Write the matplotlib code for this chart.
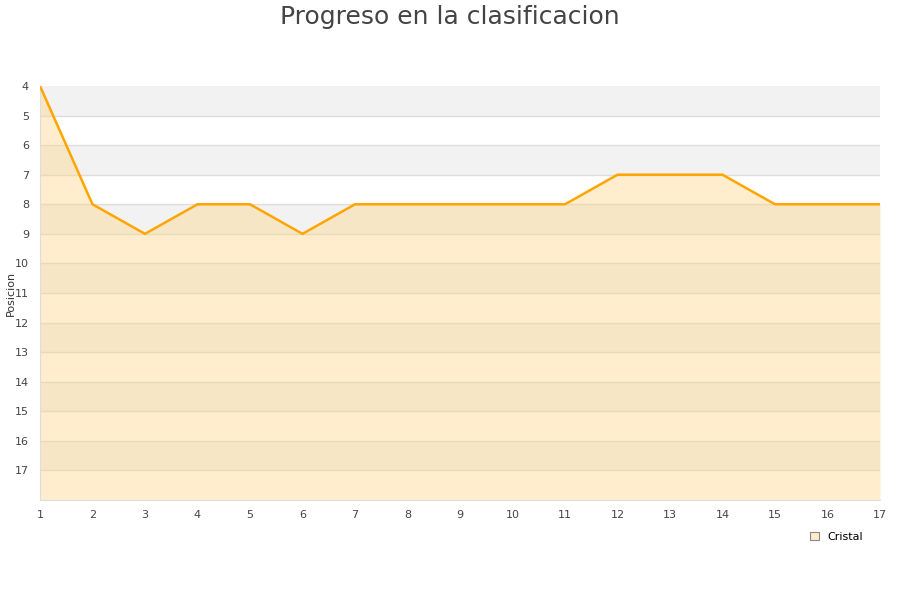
import matplotlib
matplotlib.use('Agg')
import matplotlib.pyplot as plt
from matplotlib.patches import Patch

jornadas = list(range(1, 18))
posicion = [4, 8, 9, 8, 8, 9, 8, 8, 8, 8, 8, 7, 7, 7, 8, 8, 8]
serie = 'Cristal'

fig = plt.figure(figsize=(9, 6), dpi=100)
ax = fig.add_axes([40 / 900, 1 - 500 / 600, 840 / 900, 414 / 600])

ymin, ymax = 4, 18
# alternating background bands
for y in range(ymin, ymax):
    if (y - ymin) % 2 == 0:
        ax.axhspan(y, y + 1, color='#f2f2f2', zorder=0, lw=0)
for y in range(ymin + 1, ymax):
    ax.axhline(y, color='#dddddd', lw=1, zorder=1)

ax.fill_between(jornadas, posicion, ymax, color='#ffd68a', alpha=0.42, lw=0, zorder=2)
ax.plot(jornadas, posicion, color='#ffa500', lw=1.8, zorder=3)

ax.set_xlim(1, 17)
ax.set_ylim(ymax, ymin)
ax.set_xticks(jornadas)
ax.set_yticks(range(4, 18))
ax.tick_params(length=0, labelsize=8, colors='#444444')
ax.tick_params(axis='x', pad=7)
ax.tick_params(axis='y', pad=8)
for s in ['top', 'right']:
    ax.spines[s].set_visible(False)
for s in ['left', 'bottom']:
    ax.spines[s].set_color('#dddddd')
fig.text(11 / 900, 1 - 293 / 600, 'Posicion', rotation=90, ha='center', va='center',
         fontsize=8, color='#333333')

fig.text(0.5, 1 - 17 / 600, 'Progreso en la clasificacion', ha='center', va='center',
         fontsize=18, color='#444444')

leg = fig.legend(handles=[Patch(facecolor='#ffecc9', edgecolor='#888888', lw=0.8, label=serie)],
                 loc='center left', bbox_to_anchor=(800 / 900, 1 - 537 / 600), frameon=False,
                 fontsize=8, handlelength=0.8, handleheight=0.8, handletextpad=0.8,
                 labelcolor='#000000')

fig.savefig('out.png', dpi=100)
